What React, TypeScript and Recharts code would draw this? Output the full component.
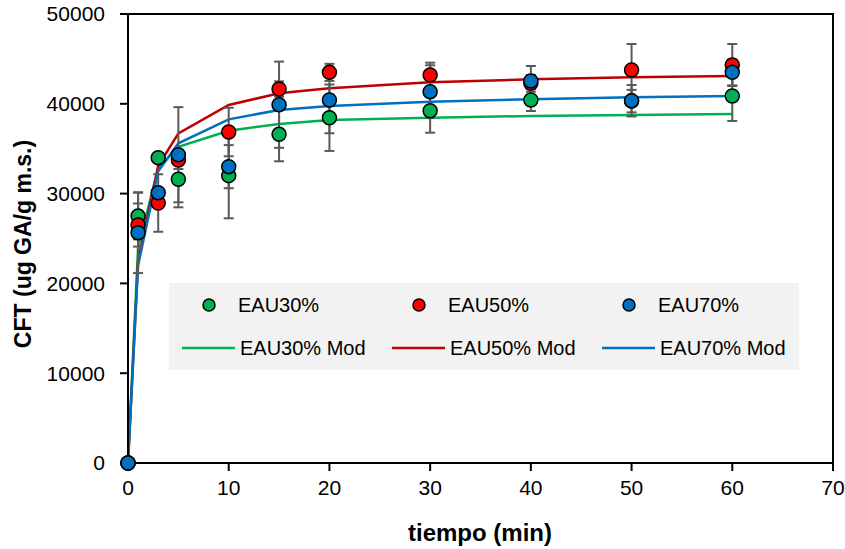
import {
  ComposedChart, Line, Scatter, XAxis, YAxis, ErrorBar, Legend, ReferenceArea, Label,
} from "recharts"

const tiempo = [0, 1, 3, 5, 10, 15, 20, 30, 40, 50, 60]
const eau30 = [0, 27500, 34000, 31600, 32000, 36600, 38450, 39230, 40420, 40300, 40870]
const eau50 = [0, 26500, 28950, 33740, 36860, 41650, 43500, 43200, 42280, 43760, 44320]
const eau70 = [0, 25650, 30100, 34330, 33000, 39900, 40420, 41350, 42540, 40340, 43500]
const err30 = [0, 2600, 300, 3130, 4750, 3000, 3700, 2450, 1220, 1250, 2780]
const err50 = [0, 2400, 3200, 1000, 2700, 850, 950, 1380, 930, 2900, 2340]
const err70 = [0, 4500, 500, 5300, 2400, 4800, 3700, 2940, 1670, 1750, 1450]
const mod30 = [0, 24000, 32800, 35200, 37000, 37750, 38200, 38450, 38640, 38750, 38860]
const mod50 = [0, 22500, 33100, 36700, 39870, 41170, 41720, 42390, 42720, 42950, 43100]
const mod70 = [0, 22000, 32500, 35600, 38270, 39310, 39760, 40240, 40500, 40720, 40870]
const xTicks = [0, 10, 20, 30, 40, 50, 60, 70]
const yTicks = [0, 10000, 20000, 30000, 40000, 50000]

const data = tiempo.map((t, i) => ({
  t,
  eau30: eau30[i], eau50: eau50[i], eau70: eau70[i],
  err30: err30[i], err50: err50[i], err70: err70[i],
  mod30: mod30[i], mod50: mod50[i], mod70: mod70[i],
}))

const FONT = "'Liberation Sans', Arial, sans-serif"

const points = [
  { key: "eau30", err: "err30", name: "EAU30%", fill: "#00b050" },
  { key: "eau50", err: "err50", name: "EAU50%", fill: "#ff0000" },
  { key: "eau70", err: "err70", name: "EAU70%", fill: "#0070c0" },
]
const models = [
  { key: "mod30", name: "EAU30% Mod", stroke: "#00b050" },
  { key: "mod50", name: "EAU50% Mod", stroke: "#c00000" },
  { key: "mod70", name: "EAU70% Mod", stroke: "#0070c0" },
]

function LegendBox() {
  return (
    <svg width={630} height={87} style={{ display: "block", background: "#f2f2f2" }}>
      {points.map((p, i) => (
        <g key={p.key}>
          <circle cx={40 + i * 210} cy={22} r={6} fill={p.fill} stroke="#000" strokeWidth={1.5} />
          <text x={69 + i * 210} y={29} fontSize={20} fontFamily={FONT} fill="#000">{p.name}</text>
        </g>
      ))}
      {models.map((m, i) => (
        <g key={m.key}>
          <line x1={13 + i * 210} x2={66 + i * 210} y1={65} y2={65} stroke={m.stroke} strokeWidth={2.5} />
          <text x={71 + i * 210} y={72} fontSize={20} fontFamily={FONT} fill="#000">{m.name}</text>
        </g>
      ))}
    </svg>
  )
}

export default function App() {
  return (
    <div style={{ position: "absolute", left: 0, top: 0, background: "#fff" }}>
      <ComposedChart width={845} height={549} data={data} margin={{ top: 14, right: 12, left: 0, bottom: 0 }}>
        <XAxis
          dataKey="t" type="number" domain={[0, 70]} ticks={xTicks} height={86}
          axisLine={{ stroke: "#000", strokeWidth: 2 }} tickLine={{ stroke: "#000", strokeWidth: 2 }}
          tickSize={8} tickMargin={9} tick={{ fill: "#000", fontSize: 21, fontFamily: FONT }}
        >
          <Label
            content={() => (
              <text x={480} y={541} textAnchor="middle" fontSize={24} fontWeight="bold" fontFamily={FONT} fill="#000">
                tiempo (min)
              </text>
            )}
          />
        </XAxis>
        <YAxis
          type="number" domain={[0, 50000]} ticks={yTicks} width={128}
          axisLine={{ stroke: "#000", strokeWidth: 2 }} tickLine={{ stroke: "#000", strokeWidth: 2 }}
          tickSize={8} tickMargin={15} tick={{ fill: "#000", fontSize: 21, fontFamily: FONT }}
        >
          <Label
            content={() => (
              <text
                x={23} y={244} transform="rotate(-90 23 244)" textAnchor="middle" dominantBaseline="central"
                fontSize={23} fontWeight="bold" fontFamily={FONT} fill="#000"
              >
                CFT (ug GA/g m.s.)
              </text>
            )}
          />
        </YAxis>
        <ReferenceArea x1={0} x2={70} y1={0} y2={50000} fill="none" stroke="#000" strokeWidth={2} />
        {models.map((m) => (
          <Line
            key={m.key} dataKey={m.key} name={m.name} type="linear" stroke={m.stroke}
            strokeWidth={2.5} dot={false} isAnimationActive={false}
          />
        ))}
        {points.map((p) => (
          <Scatter
            key={p.key} dataKey={p.key} name={p.name} isAnimationActive={false}
            shape={(s: any) => <circle cx={s.cx} cy={s.cy} r={7} fill={p.fill} stroke="#000" strokeWidth={1.5} />}
          >
            <ErrorBar dataKey={p.err} direction="y" width={5} stroke="#595959" strokeWidth={2} />
          </Scatter>
        ))}
        <Legend
          layout="horizontal" verticalAlign="middle" align="center"
          wrapperStyle={{ left: 169, top: 283, width: 630, height: 87 }}
          content={() => <LegendBox />}
        />
      </ComposedChart>
    </div>
  )
}
